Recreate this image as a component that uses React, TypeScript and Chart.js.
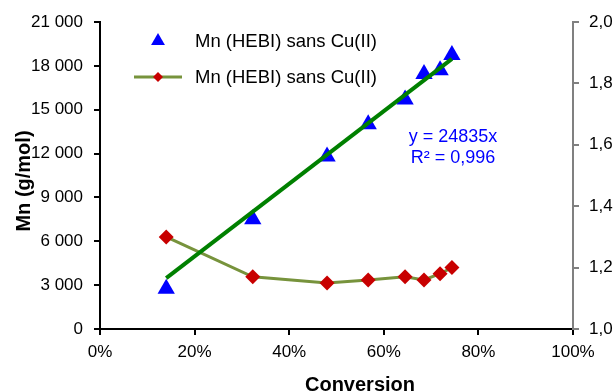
import React, { useEffect, useRef } from "react";
import { Chart, registerables } from "chart.js";

Chart.register(...registerables);

// Data
const conversionPct = [14, 32.3, 48, 56.7, 64.5, 68.5, 71.9, 74.4];
const mnValues = [2750, 7500, 11800, 14000, 15700, 17450, 17700, 18750];
const dispersity = [1.3, 1.17, 1.15, 1.16, 1.17, 1.16, 1.18, 1.2];
const trendSlope = 24835; // y = 24835x (x as fraction)
const trendR2 = "0,996";
const seriesLabel = "Mn (HEBI) sans Cu(II)";
const xTitle = "Conversion";
const yTitle = "Mn (g/mol)";

const FONT = "'Liberation Sans', Arial, sans-serif";
const BLUE = "#0000FF";
const GREEN = "#008000";
const OLIVE = "#77933C";
const RED = "#C80000";

function fmtThousands(v: number): string {
  const s = Math.round(v).toString();
  return s.replace(/\B(?=(\d{3})+(?!\d))/g, " ");
}

const overlayPlugin = {
  id: "overlay",
  afterDraw(chart: any) {
    const ctx = chart.ctx;
    const ca = chart.chartArea;
    ctx.save();
    // Legend
    const lx = ca.left + 58;
    const ly1 = ca.top + 19;
    const ly2 = ca.top + 55;
    // triangle
    const r = 8;
    ctx.fillStyle = BLUE;
    ctx.beginPath();
    ctx.moveTo(lx, ly1 - r);
    ctx.lineTo(lx + r * 0.866, ly1 + r * 0.5);
    ctx.lineTo(lx - r * 0.866, ly1 + r * 0.5);
    ctx.closePath();
    ctx.fill();
    // line + diamond
    ctx.strokeStyle = OLIVE;
    ctx.lineWidth = 3;
    ctx.beginPath();
    ctx.moveTo(lx - 24, ly2);
    ctx.lineTo(lx + 24, ly2);
    ctx.stroke();
    const d = 5;
    ctx.fillStyle = RED;
    ctx.beginPath();
    ctx.moveTo(lx, ly2 - d);
    ctx.lineTo(lx + d, ly2);
    ctx.lineTo(lx, ly2 + d);
    ctx.lineTo(lx - d, ly2);
    ctx.closePath();
    ctx.fill();
    ctx.fillStyle = "#000";
    ctx.font = `18.5px ${FONT}`;
    ctx.textAlign = "left";
    ctx.textBaseline = "middle";
    ctx.fillText(seriesLabel, lx + 37, ly1 + 1);
    ctx.fillText(seriesLabel, lx + 37, ly2 + 1);

    // Equation
    ctx.fillStyle = BLUE;
    ctx.font = `18px ${FONT}`;
    ctx.textAlign = "center";
    ctx.fillText(`y = ${trendSlope}x`, ca.left + 353, ca.top + 115);
    ctx.fillText(`R² = ${trendR2}`, ca.left + 353, ca.top + 136);

    // Axis titles
    ctx.fillStyle = "#000";
    ctx.font = `bold 20px ${FONT}`;
    ctx.textAlign = "center";
    ctx.fillText(xTitle, ca.left + 260, ca.bottom + 56);
    ctx.save();
    ctx.translate(24, ca.top + 159);
    ctx.rotate(-Math.PI / 2);
    ctx.font = `bold 20px ${FONT}`;
    ctx.fillText(yTitle, 0, 0);
    ctx.restore();
    ctx.restore();
  },
};

export default function App() {
  const ref = useRef<HTMLCanvasElement>(null);
  useEffect(() => {
    if (!ref.current) return;
    const xMin = Math.min(...conversionPct);
    const xMax = Math.max(...conversionPct);
    const trendData = [
      { x: xMin, y: (trendSlope * xMin) / 100 },
      { x: xMax, y: (trendSlope * xMax) / 100 },
    ];
    const chart = new Chart(ref.current, {
      type: "scatter",
      data: {
        datasets: [
          {
            label: "trend",
            type: "line",
            data: trendData,
            borderColor: GREEN,
            borderWidth: 4,
            pointRadius: 0,
            yAxisID: "y",
            order: 0,
          } as any,
          {
            label: seriesLabel,
            data: conversionPct.map((x, i) => ({ x, y: mnValues[i] })),
            pointStyle: "triangle",
            pointRadius: 10,
            backgroundColor: BLUE,
            borderColor: BLUE,
            borderWidth: 0,
            showLine: false,
            yAxisID: "y",
            order: 1,
          },
          {
            label: seriesLabel + " 2",
            type: "line",
            data: conversionPct.map((x, i) => ({ x, y: dispersity[i] })),
            borderColor: OLIVE,
            borderWidth: 3,
            pointStyle: "rectRot",
            pointRadius: 7.5,
            pointBackgroundColor: RED,
            pointBorderColor: RED,
            pointBorderWidth: 0,
            yAxisID: "y2",
            order: 2,
          } as any,
        ],
      },
      options: {
        animation: false,
        responsive: false,
        maintainAspectRatio: false,
        layout: { padding: { top: 22, left: 0, right: 0, bottom: 0 } },
        plugins: {
          legend: { display: false },
          tooltip: { enabled: false },
        },
        scales: {
          x: {
            type: "linear",
            min: 0,
            max: 100,
            ticks: {
              stepSize: 20,
              callback: (v: any) => `${v}%`,
              color: "#000",
              font: { family: FONT, size: 17 },
              padding: 7,
              maxRotation: 0,
            },
            grid: {
              drawOnChartArea: false,
              drawTicks: true,
              tickLength: 6,
              color: "#000",
              lineWidth: 2,
            },
            border: { display: true, color: "#000", width: 2 },
            afterFit: (s: any) => {
              s.height = 62;
            },
          },
          y: {
            type: "linear",
            position: "left",
            min: 0,
            max: 21000,
            ticks: {
              stepSize: 3000,
              callback: (v: any) => fmtThousands(Number(v)),
              color: "#000",
              font: { family: FONT, size: 17 },
              padding: 11,
            },
            grid: {
              drawOnChartArea: false,
              drawTicks: true,
              tickLength: 6,
              color: "#000",
              lineWidth: 2,
            },
            border: { display: true, color: "#000", width: 2 },
            afterFit: (s: any) => {
              s.width = 100;
            },
          },
          y2: {
            type: "linear",
            position: "right",
            min: 1,
            max: 2,
            ticks: {
              stepSize: 0.2,
              callback: (v: any) => Number(v).toFixed(1).replace(".", ","),
              color: "#000",
              font: { family: FONT, size: 17 },
              padding: 10,
            },
            grid: {
              drawOnChartArea: false,
              drawTicks: true,
              tickLength: 6,
              color: "#808080",
              lineWidth: 2,
            },
            border: { display: true, color: "#808080", width: 2 },
            afterFit: (s: any) => {
              s.width = 43;
            },
          },
        },
      },
      plugins: [overlayPlugin],
    });
    return () => chart.destroy();
  }, []);
  return (
    <div
      style={{
        position: "fixed",
        left: 0,
        top: 0,
        width: 616,
        height: 391,
        overflow: "hidden",
        background: "#fff",
      }}
    >
      <canvas ref={ref} width={616} height={391} style={{ width: 616, height: 391 }} />
    </div>
  );
}
